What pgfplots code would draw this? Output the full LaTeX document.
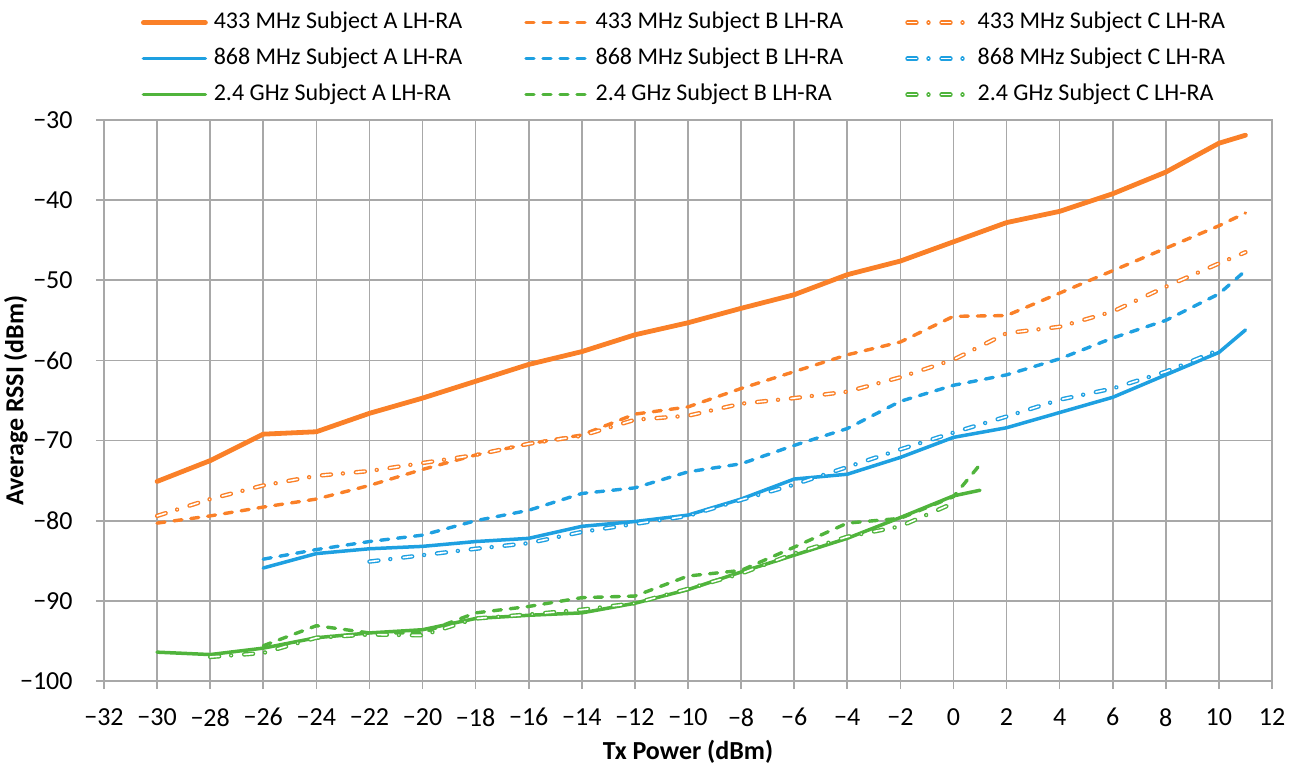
\documentclass[border=0pt]{standalone}
\usepackage{pgfplots}
\pgfplotsset{compat=1.18}
\usepackage{fontspec}
\setmainfont{Carlito}
\usetikzlibrary{calc}
\definecolor{cor}{RGB}{250,128,40}
\definecolor{cbl}{RGB}{30,160,225}
\definecolor{cgr}{RGB}{80,180,60}
\definecolor{gridgray}{RGB}{168,168,168}
\tikzset{
  sA/.style={solid, line width=1.75pt, line cap=round, line join=round},
  sAA/.style={solid, line width=2.4pt, line cap=round, line join=round},
  sB/.style={line width=1.7pt, line cap=round, line join=round, dash pattern=on 4pt off 4.5pt},
  sC/.style={line width=0.7pt, double=white, double distance=0.8pt, line cap=round, line join=round, dash pattern=on 4.5pt off 6pt on 0.01pt off 6.5pt},
}
\begin{document}
\begin{tikzpicture}
\begin{axis}[
  scale only axis, width=584pt, height=280.5pt,
  xmin=-32, xmax=12, ymin=-100, ymax=-30,
  xtick={-32,-30,...,12}, ytick={-100,-90,...,-30},
  xticklabels={−32,−30,−28,−26,−24,−22,−20,−18,−16,−14,−12,−10,−8,−6,−4,−2,0,2,4,6,8,10,12},
  yticklabels={−100,−90,−80,−70,−60,−50,−40,−30},
  tick label style={font=\fontsize{13}{15}\selectfont, inner sep=0pt},
  xticklabel style={anchor=north, yshift=-9.5pt},
  yticklabel style={anchor=east, xshift=-11.5pt},
  grid=major, grid style={line width=0.8pt, gridgray},
  axis line style={line width=0.8pt, gridgray},
  tick style={line width=0.8pt, gridgray},
  tick align=outside, major tick length=4pt, tick pos=left,
  xlabel={Tx Power (dBm)}, ylabel={Average RSSI (dBm)},
  every axis x label/.style={at={(axis description cs:0.5,-0.127)}, anchor=center, font=\bfseries\fontsize{13}{15}\selectfont},
  every axis y label/.style={at={(axis description cs:-0.0753,0.5)}, anchor=center, rotate=90, font=\bfseries\fontsize{13}{15}\selectfont},
  legend columns=3, legend cell align=left,
  legend image code/.code={\draw[#1] (0pt,0pt) -- (31pt,0pt);},
  legend style={draw=none, fill=none, inner sep=0pt, outer sep=0pt,
    at={(axis description cs:0,1)}, anchor=north west, xshift=18.5pt, yshift=54.7pt,
    font=\fontsize{12}{14}\selectfont,
    nodes={inner sep=0pt, text height=9pt, text depth=3pt},
    row sep=6pt,
    /tikz/every odd column/.append style={column sep=3pt},
    /tikz/every even column/.append style={column sep=31pt}},
]
\coordinate (bl) at (rel axis cs:0,0);
\coordinate (tr) at (rel axis cs:1,1);
% 433 MHz A
\addplot[cor, sAA] coordinates {(-30,-75.1) (-28,-72.5) (-26,-69.2) (-24,-68.9) (-22,-66.6) (-20,-64.7) (-18,-62.6) (-16,-60.5) (-14,-58.9) (-12,-56.8) (-10,-55.3) (-8,-53.5) (-6,-51.8) (-4,-49.3) (-2,-47.6) (0,-45.2) (2,-42.8) (4,-41.4) (6,-39.2) (8,-36.5) (10,-32.9) (11,-31.9)};
\addlegendentry{433 MHz Subject A LH-RA}
% 433 MHz B
\addplot[cor, sB] coordinates {(-30,-80.3) (-28,-79.4) (-26,-78.3) (-24,-77.3) (-22,-75.6) (-20,-73.6) (-18,-71.8) (-16,-70.4) (-14,-69.3) (-12,-66.7) (-10,-65.8) (-8,-63.5) (-6,-61.4) (-4,-59.3) (-2,-57.7) (0,-54.5) (2,-54.4) (4,-51.6) (6,-48.8) (8,-46.0) (10,-43.2) (11,-41.6)};
\addlegendentry{433 MHz Subject B LH-RA}
% 433 MHz C
\addplot[cor, sC] coordinates {(-30,-79.4) (-28,-77.3) (-26,-75.6) (-24,-74.4) (-22,-73.8) (-20,-72.8) (-18,-71.8) (-16,-70.4) (-14,-69.4) (-12,-67.4) (-10,-66.9) (-8,-65.4) (-6,-64.7) (-4,-63.9) (-2,-62.1) (0,-59.9) (2,-56.6) (4,-55.8) (6,-53.9) (8,-50.8) (10,-47.9) (11,-46.5)};
\addlegendentry{433 MHz Subject C LH-RA}
% 868 MHz A
\addplot[cbl, sA] coordinates {(-26,-85.9) (-24,-84.1) (-22,-83.5) (-20,-83.2) (-18,-82.6) (-16,-82.2) (-14,-80.7) (-12,-80.1) (-10,-79.3) (-8,-77.3) (-6,-74.8) (-4,-74.2) (-2,-72.1) (0,-69.6) (2,-68.4) (4,-66.5) (6,-64.6) (8,-61.8) (10,-59.0) (11,-56.2)};
\addlegendentry{868 MHz Subject A LH-RA}
% 868 MHz B
\addplot[cbl, sB] coordinates {(-26,-84.8) (-24,-83.6) (-22,-82.6) (-20,-81.8) (-18,-80.0) (-16,-78.7) (-14,-76.6) (-12,-75.9) (-10,-73.9) (-8,-72.9) (-6,-70.6) (-4,-68.5) (-2,-65.1) (0,-63.1) (2,-61.8) (4,-59.8) (6,-57.2) (8,-55.0) (10,-51.7) (11,-48.8)};
\addlegendentry{868 MHz Subject B LH-RA}
% 868 MHz C
\addplot[cbl, sC] coordinates {(-22,-85.1) (-20,-84.3) (-18,-83.5) (-16,-82.8) (-14,-81.4) (-12,-80.4) (-10,-79.4) (-8,-77.4) (-6,-75.5) (-4,-73.3) (-2,-71.1) (0,-69.0) (2,-67.0) (4,-64.9) (6,-63.5) (8,-61.4) (10,-58.7)};
\addlegendentry{868 MHz Subject C LH-RA}
% 2.4 GHz A
\addplot[cgr, sA] coordinates {(-30,-96.4) (-28,-96.7) (-26,-95.9) (-24,-94.6) (-22,-94.0) (-20,-93.6) (-18,-92.2) (-16,-91.8) (-14,-91.5) (-12,-90.3) (-10,-88.6) (-8,-86.4) (-6,-84.3) (-4,-82.2) (-2,-79.6) (0,-76.9) (1,-76.2)};
\addlegendentry{2.4 GHz Subject A LH-RA}
% 2.4 GHz B
\addplot[cgr, sB] coordinates {(-26,-95.6) (-24,-93.1) (-22,-94.0) (-20,-94.0) (-18,-91.5) (-16,-90.7) (-14,-89.6) (-12,-89.4) (-10,-86.9) (-8,-86.2) (-6,-83.3) (-4,-80.3) (-2,-79.7) (0,-77.0) (1,-73.0)};
\addlegendentry{2.4 GHz Subject B LH-RA}
% 2.4 GHz C
\addplot[cgr, sC] coordinates {(-28,-97.0) (-26,-96.5) (-24,-94.6) (-22,-94.2) (-20,-94.3) (-18,-92.2) (-16,-91.7) (-14,-91.1) (-12,-90.3) (-10,-88.5) (-8,-86.6) (-6,-84.1) (-4,-82.0) (-2,-80.7) (0,-77.8)};
\addlegendentry{2.4 GHz Subject C LH-RA}
\end{axis}
\pgfresetboundingbox
\path[use as bounding box] ($(bl)+(-52pt,-45.5pt)$) rectangle ($(tr)+(14.5pt,60pt)$);
\end{tikzpicture}
\end{document}
